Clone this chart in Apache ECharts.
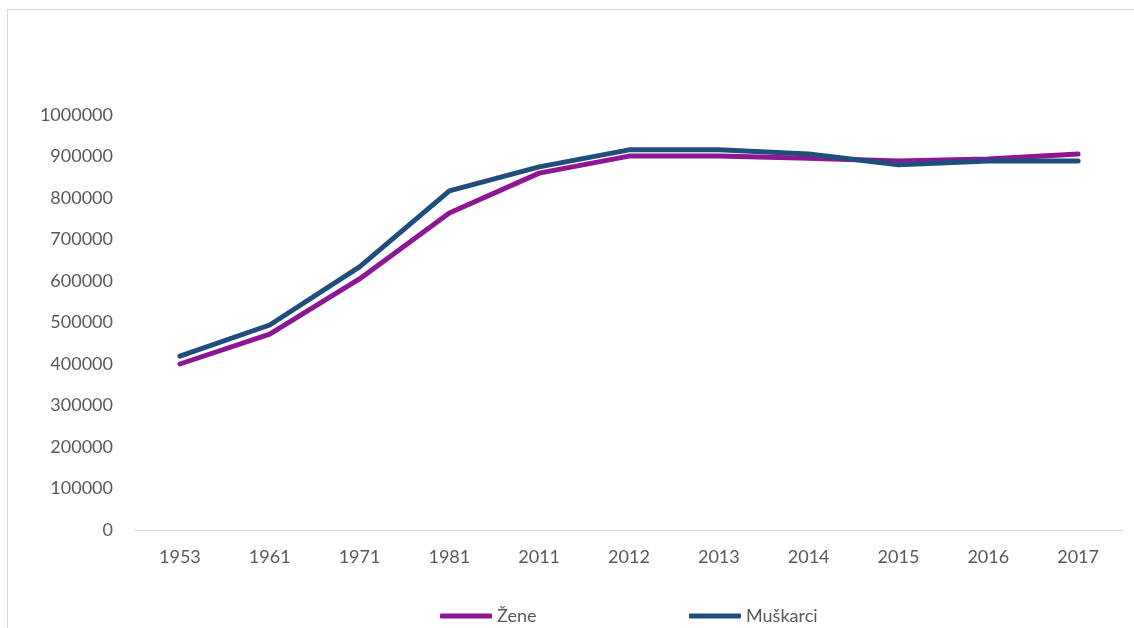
<!DOCTYPE html>
<html>
<head>
<meta charset="utf-8">
<script src="https://cdn.jsdelivr.net/npm/echarts@6/dist/echarts.min.js"></script>
<style>
html, body { margin: 0; padding: 0; overflow: hidden; background: #fff; }
#frame {
  position: absolute;
  left: 7px;
  top: 9px;
  width: 1300px;
  height: 800px;
  border: 1px solid #d9d9d9;
}
#chart-box {
  position: absolute;
  left: 0;
  top: 0;
  width: 1134px;
  height: 628px;
}
</style>
</head>
<body>
<div id="frame"></div>
<div id="chart-box"></div>
<script>
const years = ['1953', '1961', '1971', '1981', '2011', '2012', '2013', '2014', '2015', '2016', '2017'];
const zene = [400000, 472000, 605000, 764000, 860000, 901000, 901000, 896000, 889000, 894000, 906000];
const muskarci = [419000, 494000, 634000, 817000, 875000, 916000, 916000, 906000, 880000, 889000, 889000];

const purple = '#8e1593';
const blue = '#1f4e7d';
const labelFont = 'Lato, "Open Sans", sans-serif';

let chart = echarts.init(document.getElementById('chart-box'));
let option = {
  animation: false,
  textStyle: { fontFamily: labelFont },
  grid: {
    left: 135,
    right: 11,
    top: 115,
    bottom: 98,
    containLabel: false
  },
  legend: [
    {
      left: 435,
      top: 602,
      icon: 'roundRect',
      itemWidth: 52,
      itemHeight: 5,
      itemGap: 0,
      itemStyle: { borderWidth: 0 },
      textStyle: { color: '#595959', fontSize: 18 },
      data: ['Žene']
    },
    {
      left: 684,
      top: 602,
      icon: 'roundRect',
      itemWidth: 52,
      itemHeight: 5,
      itemGap: 0,
      itemStyle: { borderWidth: 0 },
      textStyle: { color: '#595959', fontSize: 18 },
      data: ['Muškarci']
    }
  ],
  xAxis: {
    type: 'category',
    data: years,
    boundaryGap: true,
    axisLine: { lineStyle: { color: '#d9d9d9', width: 1 } },
    axisTick: { show: false },
    axisLabel: { color: '#595959', fontSize: 18, margin: 18 }
  },
  yAxis: {
    type: 'value',
    min: 0,
    max: 1000000,
    interval: 100000,
    axisLine: { show: false },
    axisTick: { show: false },
    splitLine: { show: false },
    axisLabel: {
      color: '#595959',
      fontSize: 18,
      margin: 22,
      formatter: function (v) { return String(v); }
    }
  },
  series: [
    {
      name: 'Žene',
      type: 'line',
      data: zene,
      symbol: 'none',
      itemStyle: { color: purple },
      lineStyle: { color: purple, width: 5, cap: 'round', join: 'round' }
    },
    {
      name: 'Muškarci',
      type: 'line',
      data: muskarci,
      symbol: 'none',
      itemStyle: { color: blue },
      lineStyle: { color: blue, width: 5, cap: 'round', join: 'round' }
    }
  ]
};
chart.setOption(option);
</script>
</body>
</html>
